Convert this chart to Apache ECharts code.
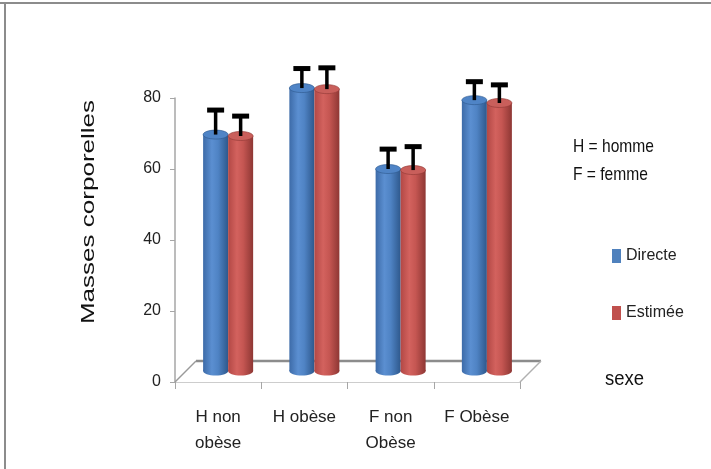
<!DOCTYPE html>
<html>
<head>
<meta charset="utf-8">
<script src="https://cdn.jsdelivr.net/npm/echarts@6/dist/echarts.min.js"></script>
<style>
html,body{margin:0;padding:0;background:#fff;overflow:hidden;}
#chart{width:711px;height:469px;}
</style>
</head>
<body>
<div id="chart"></div>
<script>
// ---- data ----
const categories = ['H non\nobèse', 'H obèse', 'F non\nObèse', 'F Obèse'];
const directe = [66.6, 79.7, 56.9, 76.3];
const estimee = [66.2, 79.4, 56.6, 75.5];
const directeErr = [6.9, 5.5, 5.6, 5.2];
const estimeeErr = [5.6, 6.0, 6.6, 5.1];
const seriesNames = ['Directe', 'Estimée'];
const yTicks = [0, 20, 40, 60, 80];

const REG = "'Liberation Sans',Arial,sans-serif";
const DX = 10, DY = 11, DEPTH = 21;

const palettes = [
  { base: '#4F81BD', body: ['#3d6ba8', '#5b8fd1', '#4f83c4', '#2e588c'], top: '#4f84c6' },
  { base: '#C0504D', body: ['#b24845', '#d3625e', '#c55652', '#8e3734'], top: '#c95f5b' }
];

function grad(cols) {
  return new echarts.graphic.LinearGradient(0, 0, 1, 0, [
    { offset: 0, color: cols[0] },
    { offset: 0.35, color: cols[1] },
    { offset: 0.6, color: cols[2] },
    { offset: 1, color: cols[3] }
  ]);
}

function makeRender(si) {
  const pal = palettes[si];
  return function (params, api) {
    const i = api.value(0), v = api.value(1), e = api.value(2);
    const base = api.coord([i, 0]);
    const top = api.coord([i, v]);
    const et = api.coord([i, v + e]);
    const band = api.size([1, 0])[0];
    const w = band * 0.29;
    const x0 = base[0] + DX - (si === 0 ? w : 0);
    const yb = base[1] - DY, yt = top[1] - DY, ye = et[1] - DY;
    const cx = x0 + w / 2, rx = w / 2, ry = 4.5;
    return {
      type: 'group',
      children: [
        { type: 'ellipse', shape: { cx: cx, cy: yb, rx: rx, ry: ry }, style: { fill: grad(pal.body) } },
        { type: 'rect', shape: { x: x0, y: yt, width: w, height: yb - yt }, style: { fill: grad(pal.body) } },
        { type: 'ellipse', shape: { cx: cx, cy: yt, rx: rx, ry: ry }, style: { fill: pal.top, stroke: pal.body[3], lineWidth: 0.6 } },
        { type: 'line', shape: { x1: cx, y1: yt, x2: cx, y2: ye }, style: { stroke: '#000', lineWidth: 3.5 } },
        { type: 'rect', shape: { x: cx - 8.5, y: ye - 2.5, width: 17, height: 5 }, style: { fill: '#000' } }
      ]
    };
  };
}

function floorRender(params, api) {
  const n = categories.length;
  const band = api.size([1, 0])[0];
  const l = api.coord([0, 0])[0] - band / 2;
  const r = api.coord([n - 1, 0])[0] + band / 2;
  const y0 = api.coord([0, 0])[1];
  return {
    type: 'group',
    children: [
      { type: 'polygon', shape: { points: [[l, y0], [r, y0], [r + DEPTH, y0 - DEPTH], [l + DEPTH, y0 - DEPTH]] }, style: { fill: '#fff' } },
      { type: 'line', shape: { x1: l + DEPTH, y1: y0 - DEPTH, x2: r + DEPTH, y2: y0 - DEPTH }, style: { stroke: '#8c8c8c', lineWidth: 2.5 } },
      { type: 'line', shape: { x1: l, y1: y0, x2: l + DEPTH, y2: y0 - DEPTH }, style: { stroke: '#9a9a9a', lineWidth: 1.5 } },
      { type: 'line', shape: { x1: r, y1: y0, x2: r + DEPTH, y2: y0 - DEPTH }, style: { stroke: '#b0b0b0', lineWidth: 1.5 } }
    ]
  };
}

const chart = echarts.init(document.getElementById('chart'), null, { renderer: 'canvas' });
const option = {
  animation: false,
  backgroundColor: '#fff',
  grid: { left: 175, right: 191, top: 98, bottom: 87 },
  legend: {
    orient: 'vertical', left: 607, top: 243, itemGap: 41, itemWidth: 9, itemHeight: 14,
    icon: 'rect',
    textStyle: { fontFamily: REG, fontSize: 16, color: '#222' },
    data: seriesNames
  },
  xAxis: {
    type: 'category', data: categories, boundaryGap: true,
    axisLine: { show: true, lineStyle: { color: '#bdbdbd', width: 1.5 } },
    axisTick: { show: true, length: 7, lineStyle: { color: '#a6a6a6' } },
    axisLabel: { margin: 22, fontFamily: REG, fontSize: 17, lineHeight: 26, color: '#222', interval: 0 }
  },
  yAxis: {
    type: 'value', min: yTicks[0], max: yTicks[yTicks.length - 1], interval: 20,
    axisLine: { show: true, lineStyle: { color: '#a6a6a6', width: 1.5 } },
    axisTick: { show: true, length: 5, lineStyle: { color: '#a6a6a6' } },
    splitLine: { show: false },
    axisLabel: { margin: 14, fontFamily: REG, fontSize: 16, color: '#222' }
  },
  graphic: [
    { type: 'line', shape: { x1: 0, y1: 3, x2: 711, y2: 3 }, style: { stroke: '#8c8c8c', lineWidth: 2 }, silent: true },
    { type: 'line', shape: { x1: 5, y1: 2, x2: 5, y2: 469 }, style: { stroke: '#8c8c8c', lineWidth: 2 }, silent: true },
    { type: 'text', x: 89, y: 212, rotation: Math.PI / 2, scaleX: 1.37, style: { text: 'Masses corporelles', fontFamily: REG, fontSize: 19, fill: '#111', align: 'center', verticalAlign: 'middle' } },
    { type: 'text', x: 573, y: 147, scaleX: 0.82, style: { text: 'H = homme', fontFamily: REG, fontSize: 19, fill: '#111', align: 'left', verticalAlign: 'middle' } },
    { type: 'text', x: 573, y: 175, scaleX: 0.82, style: { text: 'F = femme', fontFamily: REG, fontSize: 19, fill: '#111', align: 'left', verticalAlign: 'middle' } },
    { type: 'text', x: 605, y: 379, scaleX: 0.88, style: { text: 'sexe', fontFamily: REG, fontSize: 21, fill: '#111', align: 'left', verticalAlign: 'middle' } }
  ],
  series: [
    { type: 'custom', name: 'floor', z: 1, renderItem: floorRender, data: [[0, 0]], encode: { x: 0, y: 1 }, silent: true },
    {
      type: 'custom', name: seriesNames[0], z: 2, renderItem: makeRender(0),
      itemStyle: { color: palettes[0].base },
      encode: { x: 0, y: 1 },
      data: directe.map((v, i) => [i, v, directeErr[i]])
    },
    {
      type: 'custom', name: seriesNames[1], z: 3, renderItem: makeRender(1),
      itemStyle: { color: palettes[1].base },
      encode: { x: 0, y: 1 },
      data: estimee.map((v, i) => [i, v, estimeeErr[i]])
    }
  ]
};
chart.setOption(option);
</script>
</body>
</html>
